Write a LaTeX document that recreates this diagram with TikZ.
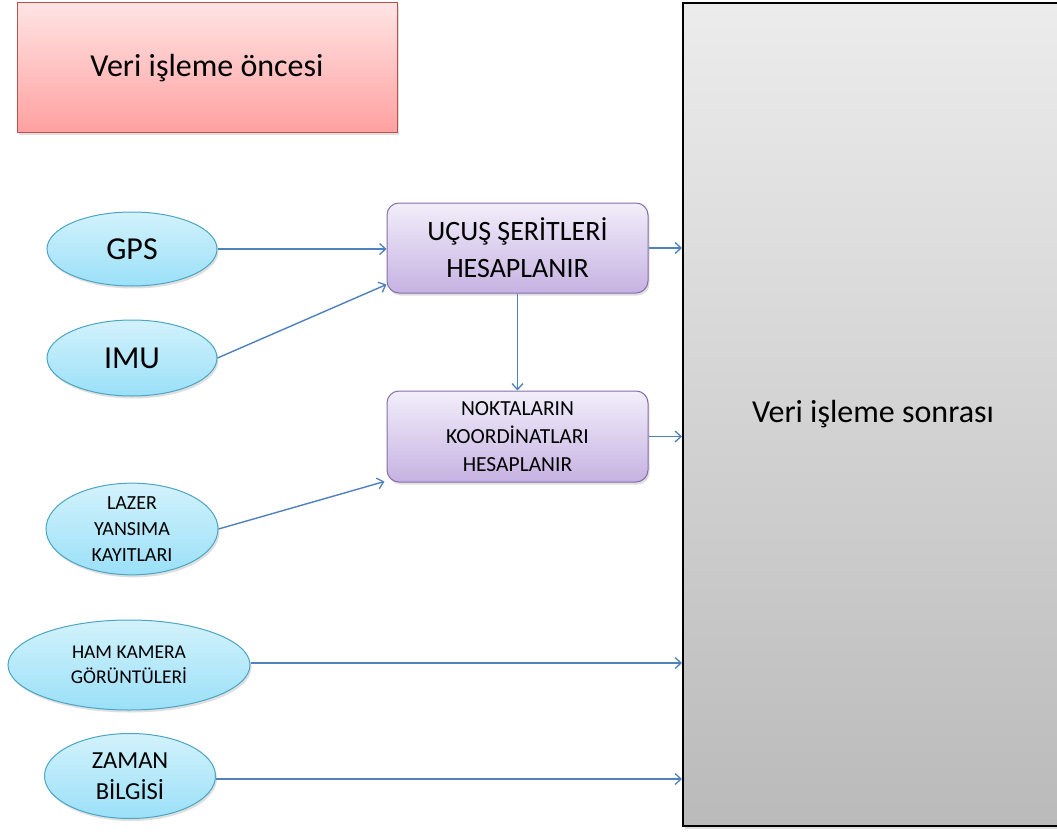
\documentclass[tikz,border=0pt]{standalone}
\usepackage{fontspec}
\setmainfont{Carlito}
\usetikzlibrary{shapes.geometric,arrows.meta,shadows,calc}
\definecolor{ellborder}{RGB}{75,165,195}
\definecolor{elltop}{RGB}{210,242,252}
\definecolor{ellbot}{RGB}{155,224,248}
\definecolor{purborder}{RGB}{135,110,170}
\definecolor{purtop}{RGB}{242,238,250}
\definecolor{purbot}{RGB}{198,178,226}
\definecolor{redborder}{RGB}{190,80,75}
\definecolor{redtop}{RGB}{255,228,228}
\definecolor{redbot}{RGB}{255,160,160}
\definecolor{graytop}{RGB}{236,236,236}
\definecolor{graybot}{RGB}{186,186,186}
\definecolor{arrowblue}{RGB}{79,129,189}
\newcommand{\fs}[2]{\fontsize{#1}{#2}\selectfont}
\begin{document}
\begin{tikzpicture}[x=1pt,y=-1pt,
  shad/.style={drop shadow={opacity=0.25,shadow xshift=1.5pt,shadow yshift=-2.5pt}},
  ell/.style={ellipse, draw=ellborder, line width=1pt, top color=elltop, bottom color=ellbot, shad, inner sep=0pt, align=center, text=black},
  proc/.style={rectangle, rounded corners=12pt, draw=purborder, line width=1pt, top color=purtop, bottom color=purbot, shad, minimum width=261pt, minimum height=90pt, align=center, inner sep=0pt},
  conn/.style={draw=arrowblue, line width=1.4pt, -{Straight Barb[length=6pt,width=11pt,line width=1.3pt]}}
]
\useasboundingbox (0,0) rectangle (1057,832);
\fill[white] (0,0) rectangle (1057,832);

% header box
\node[rectangle, draw=redborder, line width=1pt, top color=redtop, bottom color=redbot, shad, minimum width=380pt, minimum height=130pt, font=\fs{32}{38}] (pre) at (207,68) {Veri işleme öncesi};

% post box
\node[rectangle, draw=black, line width=2pt, top color=graytop, bottom color=graybot, shad, minimum width=380pt, minimum height=823pt, font=\fs{32}{38}] (post) at (873,414.5) {Veri işleme sonrası};

% process boxes
\node[proc, font=\fs{28}{37}] (b1) at (517.5,248) {UÇUŞ ŞERİTLERİ\\HESAPLANIR};
\node[proc, font=\fs{21.5}{28}, minimum height=91pt] (b2) at (517.5,436.5) {NOKTALARIN\\KOORDİNATLARI\\HESAPLANIR};

% ellipses
\node[ell, minimum width=170pt, minimum height=74pt, font=\fs{32}{38}] (gps) at (132,249) {GPS};
\node[ell, minimum width=170pt, minimum height=76pt, font=\fs{32}{38}] (imu) at (132,358) {IMU};
\node[ell, minimum width=172pt, minimum height=89pt, font=\fs{20}{26}] (laz) at (132,529) {LAZER\\YANSIMA\\KAYITLARI};
\node[ell, minimum width=242pt, minimum height=90pt, font=\fs{19.5}{25}] (ham) at (129,665) {HAM KAMERA\\GÖRÜNTÜLERİ};
\node[ell, minimum width=171pt, minimum height=85pt, font=\fs{24.5}{31}] (zam) at (130,776) {ZAMAN\\BİLGİSİ};

% connectors
\draw[conn] (gps.east) -- (gps.east -| b1.west);
\draw[conn] (imu.east) -- ([yshift=9pt]b1.south west);
\draw[conn] (b1.south) -- (b2.north);
\draw[conn] (laz.east) -- ([xshift=-2pt,yshift=1pt]b2.south west);
\draw[conn] (b1.east) -- (b1.east -| post.west);
\draw[conn] (b2.east) -- (b2.east -| post.west);
\draw[conn] ([yshift=2pt]ham.east) -- ([yshift=2pt]ham.east -| post.west);
\draw[conn] ([yshift=-3pt]zam.east) -- ([yshift=-3pt]zam.east -| post.west);
\end{tikzpicture}
\end{document}
